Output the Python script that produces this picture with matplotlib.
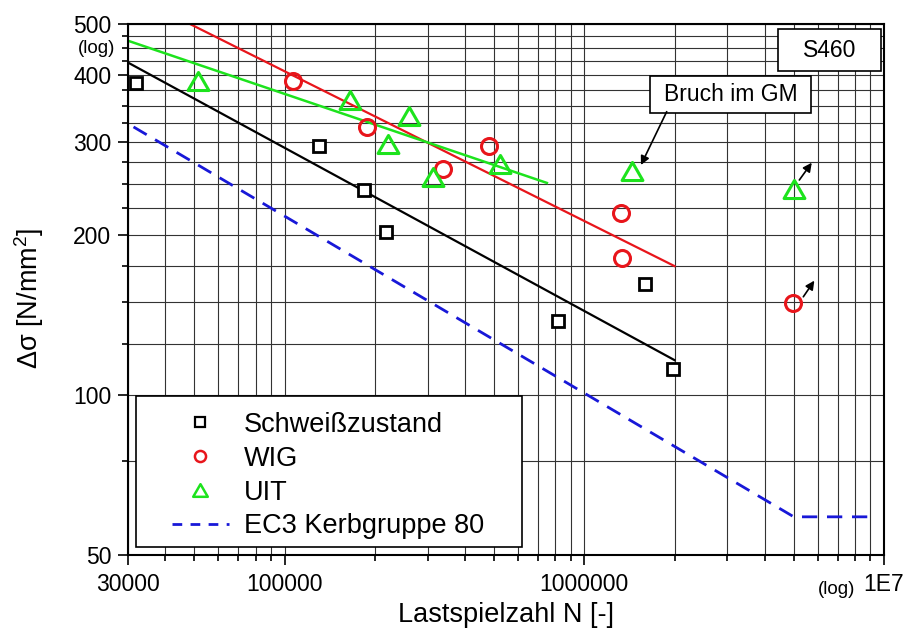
import matplotlib
matplotlib.use('Agg')
import matplotlib.pyplot as plt
from matplotlib.patches import Rectangle
from matplotlib.path import Path
from matplotlib.lines import Line2D
from matplotlib.ticker import FixedLocator, FixedFormatter, NullFormatter

plt.rcParams['font.family'] = ['Liberation Sans', 'DejaVu Sans']
plt.rcParams['mathtext.fontset'] = 'custom'
plt.rcParams['mathtext.rm'] = 'Liberation Sans'

# ---------------- data ----------------
sz_N = [32000, 130000, 184000, 218000, 817000, 1590000, 1980000]
sz_S = [387, 295, 243, 203, 138, 162, 112]

wig_N = [107000, 188000, 338000, 481000, 1330000, 1340000, 4980000]
wig_S = [391, 320, 267, 294, 220, 181, 149]

uit_N = [51500, 165000, 221000, 260000, 313000, 523000, 1440000, 5010000]
uit_S = [391, 360, 297, 336, 258, 273, 264, 245]

sz_fit_N = [30000, 2000000]
sz_fit_S = [423, 116.4]
wig_fit_N = [48300, 2000000]
wig_fit_S = [500, 175]
uit_fit_N = [30000, 750000]
uit_fit_S = [465, 251]

ec3_N = [31300, 5000000, 9400000]
ec3_S = [320, 59, 59]

labels = ['Schweißzustand', 'WIG', 'UIT', 'EC3 Kerbgruppe 80']

x_major = [30000, 100000, 1000000, 10000000]
x_major_labels = ['30000', '100000', '1000000', '1E7']
x_minor = [40000, 50000, 60000, 70000, 80000, 90000,
           200000, 300000, 400000, 500000, 600000, 700000, 800000, 900000,
           2000000, 3000000, 4000000, 5000000, 6000000, 7000000, 8000000, 9000000]
y_major = [50, 100, 200, 300, 400, 500]
y_major_labels = ['50', '100', '200', '300', '400', '500']
y_minor = [75, 125, 150, 175, 225, 250, 275, 325, 350, 375, 425, 450, 475]

# ---------------- styles ----------------
RED = '#e8151b'
GREEN = '#1de31d'
BLUE = '#1818d8'
tri = Path([(-1, -0.866), (1, -0.866), (0, 0.866), (-1, -0.866)],
           [Path.MOVETO, Path.LINETO, Path.LINETO, Path.CLOSEPOLY])

fig = plt.figure(figsize=(9.04, 6.4), dpi=100)
ax = fig.add_axes([128 / 904, 1 - 555 / 640, 756 / 904, 531 / 640])
ax.set_xscale('log')
ax.set_yscale('log')
ax.set_xlim(30000, 10000000)
ax.set_ylim(50, 500)

ax.xaxis.set_major_locator(FixedLocator(x_major))
ax.xaxis.set_major_formatter(FixedFormatter(x_major_labels))
ax.xaxis.set_minor_locator(FixedLocator(x_minor))
ax.xaxis.set_minor_formatter(NullFormatter())
ax.yaxis.set_major_locator(FixedLocator(y_major))
ax.yaxis.set_major_formatter(FixedFormatter(y_major_labels))
ax.yaxis.set_minor_locator(FixedLocator(y_minor))
ax.yaxis.set_minor_formatter(NullFormatter())

ax.tick_params(which='both', direction='out', width=1.2, color='k',
               labelsize=16.5, top=False, right=False)
ax.tick_params(which='major', length=7)
ax.tick_params(which='minor', length=4)
ax.tick_params(axis='y', pad=5)
ax.tick_params(axis='x', pad=6)

ax.grid(True, which='both', color='0.2', lw=0.8)
ax.set_axisbelow(True)
for s in ax.spines.values():
    s.set_linewidth(1.5)
    s.set_color('k')

# fit lines
ax.plot(sz_fit_N, sz_fit_S, color='k', lw=1.6, zorder=2)
ax.plot(wig_fit_N, wig_fit_S, color=RED, lw=1.6, zorder=2)
ax.plot(uit_fit_N, uit_fit_S, color=GREEN, lw=1.8, zorder=2)
ax.plot(ec3_N, ec3_S, color=BLUE, lw=2.0, dashes=(5.5, 3.5), zorder=2)

# points
ax.plot(sz_N, sz_S, ls='none', marker='s', ms=9, mfc='white', mec='k', mew=2.0, zorder=3)
ax.plot(wig_N, wig_S, ls='none', marker='o', ms=11.5, mfc='none', mec=RED, mew=2.2, zorder=3)
ax.plot(uit_N, uit_S, ls='none', marker=tri, ms=15, mfc='none', mec=GREEN, mew=2.2, zorder=3)

# run-out arrows
ap = dict(arrowstyle='-|>', color='k', lw=1.2, mutation_scale=13, shrinkA=0, shrinkB=0)
ax.annotate('', xy=(5855000, 164.3), xytext=(5380000, 153.2), arrowprops=ap, zorder=4)
ax.annotate('', xy=(5740000, 274), xytext=(5217000, 254.2), arrowprops=ap, zorder=4)

# Bruch im GM box + arrow
ax.add_patch(Rectangle((0.6905, 0.8324), 0.2129, 0.0697, transform=ax.transAxes,
                       fc='white', ec='k', lw=1.2, zorder=4))
ax.text(0.797, 0.867, 'Bruch im GM', transform=ax.transAxes, ha='center', va='center',
        fontsize=16.5, zorder=5)
ax.annotate('', xy=(1545000, 271.3), xytext=(1883000, 341.9), arrowprops=ap, zorder=4)

# S460 box
ax.add_patch(Rectangle((0.860, 0.9115), 0.136, 0.0791, transform=ax.transAxes,
                       fc='white', ec='k', lw=1.2, zorder=4))
ax.text(0.928, 0.951, 'S460', transform=ax.transAxes, ha='center', va='center',
        fontsize=16.5, zorder=5)

# (log) labels
ax.text(-0.0172, 0.953, '(log)', transform=ax.transAxes, ha='right', va='center',
        fontsize=13.5, clip_on=False)
ax.text(0.937, -0.0659, '(log)', transform=ax.transAxes, ha='center', va='center',
        fontsize=13.5, clip_on=False)

# axis labels
ax.set_xlabel('Lastspielzahl N [-]', fontsize=19.5)
ax.xaxis.set_label_coords(0.5, -0.088)
ax.set_ylabel('Δσ [N/mm$^{\\mathregular{2}}$]', fontsize=19.5)
ax.yaxis.set_label_coords(-0.108, 0.484)

# legend
ax.add_patch(Rectangle((0.0106, 0.0151), 0.5106, 0.2843, transform=ax.transAxes,
                       fc='white', ec='k', lw=1.2, zorder=4))
handles = [
    Line2D([], [], ls='none', marker='s', ms=6.5, mfc='none', mec='k', mew=1.6),
    Line2D([], [], ls='none', marker='o', ms=8, mfc='none', mec=RED, mew=1.8),
    Line2D([], [], ls='none', marker=tri, ms=10.5, mfc='none', mec=GREEN, mew=1.8),
    Line2D([], [], color=BLUE, lw=2.0, dashes=(3.5, 3.0)),
]
leg = ax.legend(handles, labels, loc='upper left', bbox_to_anchor=(0.0582, 0.2695),
                frameon=False, fontsize=19.5, handlelength=2.1, handletextpad=0.55,
                labelspacing=0.29, borderpad=0, borderaxespad=0)
leg.set_zorder(6)

fig.savefig('out.png', dpi=100)
